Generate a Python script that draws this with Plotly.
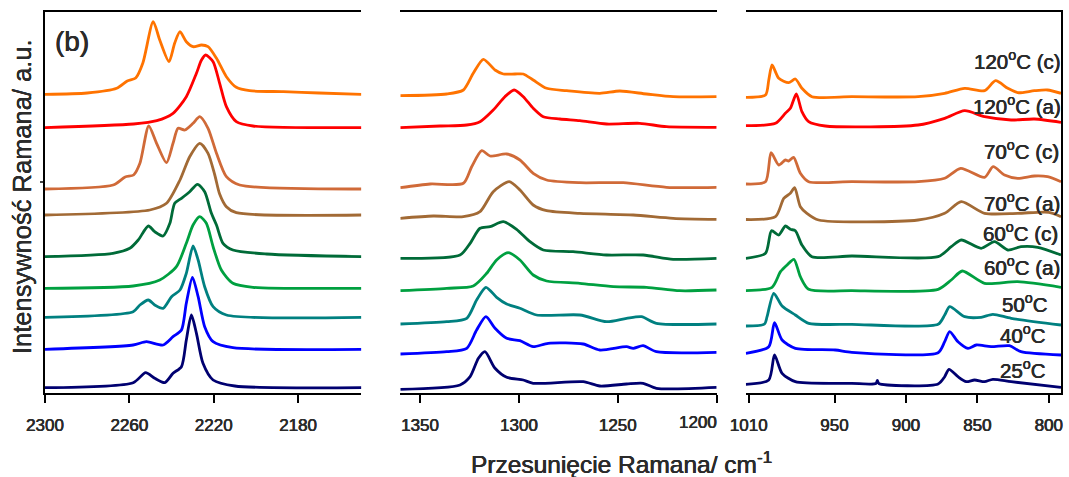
import plotly.graph_objects as go

# ---------------- data (wavenumber, stacked Raman intensity, a.u.) ----------------
series_names = ["120<sup>o</sup>C (c)", "120<sup>o</sup>C (a)", "70<sup>o</sup>C (c)",
                "70<sup>o</sup>C (a)", "60<sup>o</sup>C (c)", "60<sup>o</sup>C (a)",
                "50<sup>o</sup>C", "40<sup>o</sup>C", "25<sup>o</sup>C"]
series_colors = ["#FF7300", "#FF0000", "#D06A38", "#A26A35", "#006B38",
                 "#00A040", "#008080", "#0000FF", "#000070"]

# ---- panel 1 : 2300-2150 cm-1
T120C_X1 = [2300, 2280, 2266, 2261, 2257, 2253.6, 2248.7, 2245.6, 2241.2, 2238.5, 2236, 2233,
            2229.8, 2225.8, 2222.7, 2218.7, 2214, 2209.3, 2203, 2187, 2170, 2150]
T120C_Y1 = [298.7, 300, 304.7, 312, 315, 330, 371.3, 353, 331.3, 350, 361.3, 351.3,
            346.3, 348, 346.3, 334.7, 316.3, 305.7, 302.3, 301.3, 300, 298.7]
T120A_X1 = [2300, 2258, 2247, 2239.3, 2233, 2228.2, 2225.8, 2223.8, 2220.3, 2217.2, 2214,
            2209.3, 2201.4, 2150]
T120A_Y1 = [265.3, 269, 272.3, 279.7, 296.3, 319.7, 333, 338, 331.3, 309.7, 286.3,
            271.3, 267, 265.3]
T70C_X1 = [2300, 2267.7, 2262, 2258, 2255, 2250.8, 2247.1, 2242.4, 2239.3, 2236.9, 2233.7,
           2229.8, 2226.6, 2222.7, 2218.7, 2214, 2207.7, 2150]
T70C_Y1 = [204, 208, 216, 218, 229.7, 267, 249.7, 230.3, 249.7, 264.7, 263,
           269.7, 276.3, 264.7, 239.7, 216.3, 208, 204]
T70A_X1 = [2300, 2250.3, 2242.4, 2236, 2231.4, 2226.6, 2222.7, 2219.5, 2217.2, 2214, 2209.3, 2150]
T70A_Y1 = [178, 183, 189.7, 213, 236.3, 249.7, 239.7, 218, 199, 186.3, 180.3, 178]
T60C_X1 = [2300, 2267.8, 2259.8, 2255.8, 2251, 2248, 2244, 2240.8, 2238.5, 2235.3, 2231.4,
           2227.7, 2224.3, 2221.1, 2218.7, 2215.6, 2210.9, 2195, 2150]
T60C_Y1 = [136.3, 139.7, 144.7, 153, 167, 161.3, 157, 169.7, 189.7, 194.7, 201.3,
           208.7, 201.3, 179.7, 168, 149.7, 143, 139, 136.3]
T60A_X1 = [2300, 2258.2, 2245.6, 2237.7, 2233, 2229.8, 2226.6, 2223.5, 2220.3, 2216.4,
           2210.9, 2201.4, 2150]
T60A_Y1 = [104.7, 107, 113, 126.3, 149.7, 168, 176.3, 169.7, 146.3, 123, 109.7, 105.7, 104.7]
T50_X1 = [2300, 2258.2, 2255, 2251, 2248, 2244, 2240, 2236, 2233, 2229.8, 2227.4, 2224.3,
          2220.3, 2214, 2150]
T50_Y1 = [75.7, 81.3, 88, 93, 88, 84.7, 96.3, 103, 119.7, 147, 133, 106.3, 86.3, 78, 75.7]
T40_X1 = [2300, 2258.2, 2251.9, 2244, 2239.3, 2235.3, 2233, 2230.1, 2227.4, 2224.3, 2220.3,
          2210.9, 2150]
T40_Y1 = [43.7, 48, 51.3, 48, 56.3, 63, 89.7, 115.7, 96.3, 66.3, 51.3, 45.3, 43.7]
T25_X1 = [2300, 2258.2, 2252.3, 2248, 2243.2, 2239.3, 2235.3, 2233, 2230.6, 2228.2, 2225.1,
          2220.3, 2210, 2150]
T25_Y1 = [5.3, 10.3, 20.3, 14.7, 10.3, 19.7, 26.3, 53, 78, 59.7, 29.7, 13, 7, 5.3]

# ---- panel 2 : 1360-1200 cm-1
T120C_X2 = [1360, 1336.5, 1328.1, 1323.1, 1318, 1312.1, 1307.9, 1302, 1297.8, 1292.8, 1286,
            1275.9, 1259.1, 1249, 1235.5, 1222, 1200]
T120C_Y2 = [297.3, 299, 303, 319.7, 333.7, 323, 319, 319, 319, 313, 304.7,
            302.3, 299.7, 302, 299, 296.3, 296.3]
T120A_X2 = [1360, 1339.9, 1326.4, 1319.7, 1313, 1307.1, 1302.4, 1297.8, 1292.8, 1287.7,
            1279.3, 1269.2, 1255.7, 1238.9, 1225.4, 1200]
T120A_Y2 = [265.3, 267, 268, 271.3, 283, 296.3, 303, 296.3, 284.7, 276.3,
            274, 272.3, 269, 269.7, 266.3, 265.7]
T70C_X2 = [1360, 1344.9, 1328.1, 1323.9, 1318.8, 1314.6, 1306.2, 1299.5, 1292.8, 1286,
           1269.2, 1247.3, 1225.4, 1200]
T70C_Y2 = [205.3, 209, 209.7, 226.3, 242.3, 237, 239, 233, 219.7, 213,
           210.3, 210.3, 205.7, 205.7]
T70A_X2 = [1360, 1343.3, 1328.1, 1319.7, 1313, 1304.9, 1299.5, 1292.8, 1286, 1269.2,
           1242.2, 1222, 1200]
T70A_Y2 = [174.7, 177, 176.3, 181.3, 201.3, 211.3, 203, 188, 182.3, 179.7, 178, 174.7, 173.7]
T60C_X2 = [1360, 1329.8, 1324.7, 1319.7, 1314.6, 1307.9, 1301.2, 1294.4, 1287.7, 1272.6,
           1255.7, 1237.2, 1222, 1200]
T60C_Y2 = [134.7, 138, 149.7, 164.7, 166.3, 171.3, 163.7, 151.3, 143, 141.3,
           138, 138, 133.7, 134.7]
T60A_X2 = [1360, 1336.5, 1323.1, 1316.3, 1311.3, 1305.4, 1299.5, 1292.8, 1286, 1269.2,
           1252.3, 1235.5, 1218.7, 1200]
T60A_Y2 = [102.3, 104.7, 107, 119.7, 133, 140.3, 133, 118, 112, 109.7,
           106.3, 105.7, 102.3, 103]
T50_X2 = [1360, 1336.5, 1326.4, 1321.4, 1316.7, 1311.3, 1306.2, 1299.5, 1291.1, 1269.2,
          1255.7, 1245.6, 1238, 1230.5, 1200]
T50_Y2 = [69, 71.3, 74.7, 93, 105.7, 95.7, 89, 84.7, 78, 78, 71.3, 74.7, 76.3, 69.7, 69]
T40_X2 = [1360, 1336.5, 1326.4, 1321.4, 1316.7, 1312.1, 1306.2, 1299.5, 1292.8, 1285.2,
          1267.5, 1259.1, 1245.6, 1242.2, 1237.2, 1230.5, 1200]
T40_Y2 = [39, 41.3, 44.7, 63, 76.3, 64.7, 54.7, 52.3, 46.3, 49.7,
          49, 43, 46.3, 44.7, 47.3, 41.3, 40.7]
T25_X2 = [1360, 1329.8, 1324.7, 1320.5, 1317.2, 1312.1, 1306.2, 1297.8, 1292.8, 1267.5,
          1259.1, 1245.6, 1237.2, 1230.5, 1200]
T25_Y2 = [3.7, 8, 16.3, 34.7, 41.3, 24.7, 15.7, 13, 9.7, 11.3, 7, 9, 9.7, 4.7, 5.7]

# ---- panel 3 : 1012-792 cm-1
T120C_X3 = [1012, 998.3, 996, 993.7, 989, 982.1, 977.4, 972.8, 965.8, 937.9, 891.5, 872.9,
            858.9, 845, 837.3, 828.7, 821.8, 810.1, 800.9, 791.5]
T120C_Y3 = [295.7, 298, 313, 328, 314.7, 310.3, 314, 304.7, 296.3, 296.3, 296.3, 299.7,
            304.7, 302.3, 312.3, 304.7, 300.3, 302.3, 303, 299.7]
T120A_X3 = [1012, 991.3, 984.4, 980.9, 976.7, 972.8, 968.1, 956.5, 891.5, 872.9, 858.9,
            845, 826.4, 810.1, 791.5]
T120A_Y3 = [267.3, 269.7, 279.7, 284.7, 299, 281.3, 271.3, 267, 268, 274.7, 282.3,
            276.3, 273, 274, 270.7]
T70C_X3 = [1012, 998.3, 994.4, 989, 984.4, 982.1, 978.6, 973.9, 968.1, 937.9, 891.5, 872.9,
           861.7, 845, 839, 831, 821.8, 810.1, 800.9, 791.5]
T70C_Y3 = [209, 211.3, 240.3, 228, 233, 232, 235.7, 219.7, 211.3, 211.3, 211.3, 214.7,
           224.7, 215.7, 226.3, 218, 214.7, 217, 216.3, 211.3]
T70A_X3 = [1012, 991.3, 985.5, 980.9, 977.9, 973.9, 969.3, 961.1, 891.5, 872.9, 861.3,
           845, 821.8, 800, 791.5]
T70A_Y3 = [173.5, 176.3, 194.7, 199.7, 205.3, 186.3, 179.7, 173, 173, 179.7, 191.3,
           179.7, 179.7, 180.7, 176.3]
T60C_X3 = [1012, 998.3, 994.1, 989, 984.4, 980.9, 977.4, 972.8, 965.8, 937.9, 877.5, 868.3,
           861.3, 847.4, 838, 828.7, 819.5, 807.8, 791.5]
T60C_Y3 = [134.7, 139.7, 162.3, 158, 167, 163.7, 162.3, 148, 136.3, 137, 136.3, 146.3,
           153, 144.7, 151.3, 143, 146.3, 145.7, 138]
T60A_X3 = [1012, 993.7, 987.8, 983.2, 978.4, 973.9, 968.1, 937.9, 877.5, 868.3, 860.6,
           845, 821.8, 791.5]
T60A_Y3 = [102.3, 105.7, 121.3, 128, 133.7, 116.3, 103.7, 102.3, 103.7, 113, 122,
           109.7, 111.3, 105.7]
T50_X3 = [1012, 999, 997.2, 992.5, 986.7, 977.4, 968.1, 937.9, 877.5, 872.9, 869.4,
          858.9, 847.4, 839.2, 826.4, 791.5]
T50_Y3 = [67, 69, 76.3, 99.7, 87, 78, 69.7, 68.7, 68.7, 78, 86.3, 76.3, 75.7, 78.7, 74.7, 68]
T40_X3 = [1012, 996, 992, 986.7, 977.4, 949.5, 937.9, 877.5, 872.9, 869.4, 863.6, 856.6,
          850.8, 840.4, 827.6, 819.5, 791.5]
T40_Y3 = [39.7, 46.3, 70.3, 53, 44.7, 43, 40.7, 40.3, 51.3, 61.3, 51.3, 44.7,
          48, 46.3, 47.3, 41.3, 38]
T25_X3 = [1012, 996, 992, 986.7, 977.4, 937.9, 921, 920, 919, 877.5, 872.9, 869.9, 863.6,
          857.8, 852, 845, 839.2, 826.4, 791.5]
T25_Y3 = [8.7, 13, 38, 19.7, 11.3, 9.7, 9.5, 12.5, 9.5, 9, 16.3, 23.7, 16.3,
          11.3, 13, 11.3, 13.7, 11.3, 5.7]

panel1 = [(T120C_X1, T120C_Y1), (T120A_X1, T120A_Y1), (T70C_X1, T70C_Y1), (T70A_X1, T70A_Y1),
          (T60C_X1, T60C_Y1), (T60A_X1, T60A_Y1), (T50_X1, T50_Y1), (T40_X1, T40_Y1),
          (T25_X1, T25_Y1)]
panel2 = [(T120C_X2, T120C_Y2), (T120A_X2, T120A_Y2), (T70C_X2, T70C_Y2), (T70A_X2, T70A_Y2),
          (T60C_X2, T60C_Y2), (T60A_X2, T60A_Y2), (T50_X2, T50_Y2), (T40_X2, T40_Y2),
          (T25_X2, T25_Y2)]
panel3 = [(T120C_X3, T120C_Y3), (T120A_X3, T120A_Y3), (T70C_X3, T70C_Y3), (T70A_X3, T70A_Y3),
          (T60C_X3, T60C_Y3), (T60A_X3, T60A_Y3), (T50_X3, T50_Y3), (T40_X3, T40_Y3),
          (T25_X3, T25_Y3)]

ticks1 = [2300, 2260, 2220, 2180]
ticks2 = [1350, 1300, 1250, 1200]
ticks3 = [1010, 950, 900, 850, 800]
ranges = [[2300, 2150], [1360, 1200], [1012.2, 791.5]]
Y_RANGE = [0, 381]

# ---------------- figure ----------------
W, H = 1069, 477
ML, MR, MT, MB = 45, 6, 12, 84
PW, PH = W - ML - MR, H - MT - MB

def px2paper_x(px):
    return (px - ML) / PW

def px2paper_y(py):
    return (H - MB - py) / PH

fig = go.Figure()
for panel, (xa, ya) in zip([panel1, panel2, panel3], [("x", "y"), ("x2", "y2"), ("x3", "y3")]):
    for (xs, ys), name, col in zip(panel, series_names, series_colors):
        fig.add_trace(go.Scatter(
            x=xs, y=ys, mode="lines", name=name, xaxis=xa, yaxis=ya,
            line=dict(color=col, width=2.8, shape="spline", smoothing=0.7),
            showlegend=False, hoverinfo="skip"))

FONT = "Liberation Sans, Arial, sans-serif"
TXT = "#2b2b2b"
SHADOW = "0.3px 0 0 #2b2b2b, -0.3px 0 0 #2b2b2b"
tickfont = dict(family=FONT, size=17, color=TXT, shadow=SHADOW)
xcommon = dict(showline=True, linecolor="black", linewidth=2, mirror=True,
               ticks="outside", ticklen=8, tickwidth=1.5, tickcolor="black",
               showgrid=False, zeroline=False, tickfont=tickfont, ticklabelstandoff=8)
ycommon = dict(range=Y_RANGE, showgrid=False, zeroline=False, showticklabels=False)

dom1 = [0, px2paper_x(362)]
dom2 = [px2paper_x(401), px2paper_x(718)]
dom3 = [px2paper_x(747), 1]

# the 1200 label is drawn shifted left (as in the original) to clear the 1010 label
ticktext2 = ["1350", "1300", "1250", ""]

fig.update_layout(
    width=W, height=H,
    margin=dict(l=ML, r=MR, t=MT, b=MB, pad=0),
    paper_bgcolor="white", plot_bgcolor="white",
    xaxis=dict(domain=dom1, range=ranges[0], tickvals=ticks1, anchor="y", **xcommon),
    xaxis2=dict(domain=dom2, range=ranges[1], tickvals=ticks2, ticktext=ticktext2,
                anchor="y2", **xcommon),
    xaxis3=dict(domain=dom3, range=ranges[2], tickvals=ticks3, anchor="y3", **xcommon),
    yaxis=dict(anchor="x", showline=True, linecolor="black", linewidth=2,
               ticks="outside", ticklen=3, tickwidth=1.5, tickvals=[211], **ycommon),
    yaxis2=dict(anchor="x2", showline=False, ticks="", **ycommon),
    yaxis3=dict(anchor="x3", side="right", showline=True, linecolor="black", linewidth=2,
                ticks="", **ycommon),
)

annotations = []
label_pos = [(1065, 60), (1065, 105), (1063, 150), (1064, 202), (1062, 232),
             (1064, 266), (1052, 303), (1050, 334), (1050, 369)]
for lab, (px, py) in zip(series_names, label_pos):
    annotations.append(dict(text=lab, x=px2paper_x(px), y=px2paper_y(py), xref="paper",
                            yref="paper", xanchor="right", yanchor="middle", showarrow=False,
                            font=dict(size=20.5, family=FONT, color=TXT, shadow=SHADOW)))
annotations.append(dict(text=str(ticks2[-1]), x=px2paper_x(699), y=px2paper_y(422),
                        xref="paper", yref="paper", xanchor="center", yanchor="middle",
                        showarrow=False, font=tickfont))
annotations.append(dict(text="(b)", x=px2paper_x(72), y=px2paper_y(41), xref="paper",
                        yref="paper", xanchor="center", yanchor="middle", showarrow=False,
                        font=dict(size=28, family=FONT, color=TXT, shadow=SHADOW)))
annotations.append(dict(text="Przesunięcie Ramana/ cm<sup>-1</sup>", x=px2paper_x(623),
                        y=px2paper_y(462), xref="paper", yref="paper", xanchor="center",
                        yanchor="middle", showarrow=False,
                        font=dict(size=24.5, family=FONT, color=TXT, shadow=SHADOW)))
annotations.append(dict(text="Intensywność Ramana/ a.u.", x=px2paper_x(22), y=px2paper_y(197),
                        xref="paper", yref="paper", xanchor="center", yanchor="middle",
                        textangle=-90, showarrow=False,
                        font=dict(size=25.5, family=FONT, color=TXT,
                                  shadow="0 0.3px 0 #2b2b2b, 0 -0.3px 0 #2b2b2b")))
fig.update_layout(annotations=annotations)

fig.write_html("out.html")
